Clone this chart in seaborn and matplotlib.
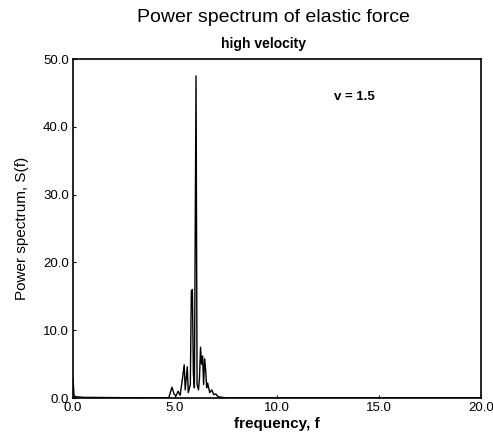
import matplotlib
matplotlib.use("Agg")
import matplotlib.pyplot as plt
import seaborn as sns
import pandas as pd

# Datos
frequency = [0.0, 0.05, 0.1, 0.5, 4.6, 4.7, 4.85, 4.95, 5.05, 5.15, 5.25, 5.35, 5.45,
             5.5, 5.6, 5.65, 5.75, 5.8, 5.85, 5.9, 5.95, 6.03, 6.08, 6.15, 6.2,
             6.25, 6.3, 6.35, 6.4, 6.45, 6.5, 6.55, 6.6, 6.7, 6.8, 6.9, 7.0, 7.1,
             7.3, 7.6, 20.0]
power = [3.0, 0.5, 0.2, 0.1, 0.0, 0.1, 1.6, 0.6, 0.3, 1.0, 0.4, 2.5, 4.9,
         1.2, 4.6, 0.8, 2.0, 15.8, 16.0, 3.5, 1.5, 47.5, 2.0, 1.2, 3.0,
         7.5, 5.0, 6.2, 2.0, 5.8, 4.2, 1.5, 2.2, 0.8, 1.2, 0.5, 0.6, 0.2,
         0.1, 0.0, 0.0]
x_ticks = [0.0, 5.0, 10.0, 15.0, 20.0]
y_ticks = [0.0, 10.0, 20.0, 30.0, 40.0, 50.0]

df = pd.DataFrame({"frequency": frequency, "power": power})

sns.set_style("ticks")
plt.rcParams["font.family"] = ["Liberation Sans", "DejaVu Sans"]
plt.rcParams["text.color"] = "black"
plt.rcParams["axes.labelcolor"] = "black"
plt.rcParams["xtick.color"] = "black"
plt.rcParams["ytick.color"] = "black"

fig = plt.figure(figsize=(4.93, 4.42), dpi=100)
ax = fig.add_axes([0.148, 0.0995, 0.828, 0.767])

sns.lineplot(data=df, x="frequency", y="power", color="black", linewidth=1.0, ax=ax)

ax.set_xlim(0, 20)
ax.set_ylim(0, 50)
ax.set_xticks(x_ticks)
ax.set_yticks(y_ticks)
ax.set_xticklabels([f"{t:.1f}" for t in x_ticks], fontsize=9.5)
ax.set_yticklabels([f"{t:.1f}" for t in y_ticks], fontsize=9.5)
ax.tick_params(direction="in", length=2, width=0.8, pad=3)
for s in ax.spines.values():
    s.set_linewidth(1.2)
    s.set_color("black")

ax.set_xlabel("frequency, f", fontsize=11, fontweight="bold", labelpad=2)
ax.set_ylabel("Power spectrum, S(f)", fontsize=11, labelpad=10)

ax.text(13.8, 44.4, "v = 1.5", fontsize=9.5, fontweight="bold", ha="center", va="center")

fig.text(0.555, 0.96, "Power spectrum of elastic force", fontsize=14,
         ha="center", va="center")
fig.text(0.535, 0.90, "high velocity", fontsize=10, fontweight="bold",
         ha="center", va="center")

fig.savefig("out.png", dpi=100)
